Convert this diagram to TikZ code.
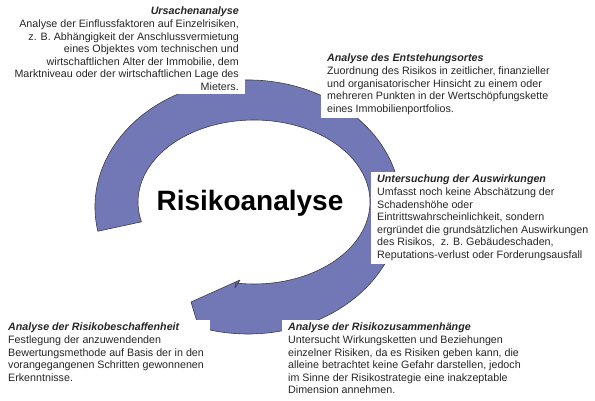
\documentclass[tikz,border=0pt]{standalone}
\usepackage{fontspec}
\setmainfont{Liberation Sans}
\usetikzlibrary{positioning}
\definecolor{ringblue}{RGB}{114,120,182}
\definecolor{ringline}{RGB}{60,60,70}

\begin{document}
\begin{tikzpicture}[x=1pt,y=1pt,
	desc/.style={fill=white,inner xsep=6pt,inner ysep=3pt,text=black!85,font=\fontsize{10.7}{12.6}\selectfont},
	head/.style={font=\fontsize{28}{30}\selectfont\bfseries}]
	\useasboundingbox (0,0) rectangle (595,400);

	% ring arrow
	\coordinate (outer) at (248,193);
	\coordinate (inner) at (254,198);
	\coordinate (barb_lo) at (202,62);
	\coordinate (tip) at (191,98);
	\coordinate (barb_up) at (240,120);
	\coordinate (notch) at (235,112);
	\filldraw[fill=ringblue,draw=ringline,line width=.6pt,line join=round]
		([shift={(191:153 and 127)}]outer) arc[start angle=191,end angle=-105,x radius=153,y radius=127]
		-- (barb_lo) -- (tip) -- (barb_up) -- (notch)
		-- ([shift={(261:116 and 82)}]inner) arc[start angle=261,end angle=554,x radius=116,y radius=82]
		-- cycle;

	\node[head,anchor=base] (titel) at (250,190) {Risikoanalyse};

	\node[desc,anchor=north east,align=right] (ursache) at (245,396) {\textbf{\textit{Ursachenanalyse}}\\
		Analyse der Einflussfaktoren auf Einzelrisiken,\\
		z. B. Abhängigkeit der Anschlussvermietung\\
		eines Objektes vom technischen und\\
		wirtschaftlichen Alter der Immobilie, dem\\
		Marktniveau oder der wirtschaftlichen Lage des\\
		Mieters.};
	\node[desc,anchor=north west,align=left] (entstehung) at (321,349) {\textbf{\textit{Analyse des Entstehungsortes}}\\
		Zuordnung des Risikos in zeitlicher, finanzieller\\
		und organisatorischer Hinsicht zu einem oder\\
		mehreren Punkten in der Wertschöpfungskette\\
		eines Immobilienportfolios.};
	\node[desc,anchor=north west,align=left] (auswirkung) at (371,228) {\textbf{\textit{Untersuchung der Auswirkungen}}\\
		Umfasst noch keine Abschätzung der\\
		Schadenshöhe oder\\
		Eintrittswahrscheinlichkeit, sondern\\
		ergründet die grundsätzlichen Auswirkungen\\
		des Risikos,~ z. B. Gebäudeschaden,\\
		Reputations-verlust oder Forderungsausfall};
	\node[desc,anchor=north west,align=left] (zusammenhang) at (282,80) {\textbf{\textit{Analyse der Risikozusammenhänge}}\\
		Untersucht Wirkungsketten und Beziehungen\\
		einzelner Risiken, da es Risiken geben kann, die\\
		alleine betrachtet keine Gefahr darstellen, jedoch\\
		im Sinne der Risikostrategie eine inakzeptable\\
		Dimension annehmen.};
	\node[desc,anchor=north west,align=left] (beschaffenheit) at (2,80) {\textbf{\textit{Analyse der Risikobeschaffenheit}}\\
		Festlegung der anzuwendenden\\
		Bewertungsmethode auf Basis der in den\\
		vorangegangenen Schritten gewonnenen\\
		Erkenntnisse.};
\end{tikzpicture}
\end{document}
